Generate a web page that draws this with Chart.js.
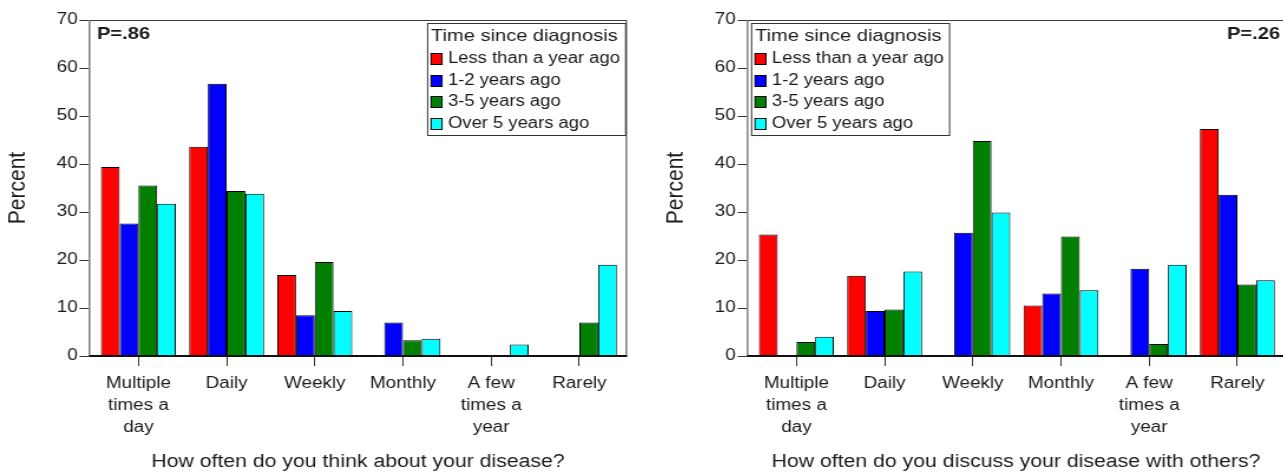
<!DOCTYPE html>
<html>
<head>
<meta charset="utf-8">
<script src="https://cdn.jsdelivr.net/npm/chart.js@4.4.1/dist/chart.umd.min.js"></script>
<style>
  html, body { margin: 0; padding: 0; background: #fff; overflow: hidden; width: 1283px; height: 472px; }
  .panel { position: absolute; top: 0; transform-origin: 0 0; transform: scaleX(1.18); }
  #p1 { left: 0; }
  #p2 { left: 658px; }
  canvas { display: block; }
</style>
</head>
<body>
<div class="panel" id="p1"><canvas id="c1" width="545" height="472"></canvas></div>
<div class="panel" id="p2"><canvas id="c2" width="545" height="472"></canvas></div>
<script>
// Response categories (multi-line tick labels)
const categories = [["Multiple", "times a", "day"], "Daily", "Weekly", "Monthly", ["A few", "times a", "year"], "Rarely"];
// Time since diagnosis groups
const groups = ["Less than a year ago", "1-2 years ago", "3-5 years ago", "Over 5 years ago"];
const groupColors = ["#ff0000", "#0000ff", "#007f00", "#00ffff"];
const yTicks = [0, 10, 20, 30, 40, 50, 60, 70];

// How often do you think about your disease? (percent)
const thinkLessThanYear = [39.4, 43.6, 16.9, 0, 0, 0];
const think1to2Years   = [27.6, 56.7, 8.5, 7.0, 0, 0];
const think3to5Years   = [35.5, 34.4, 19.6, 3.3, 0, 7.0];
const thinkOver5Years  = [31.7, 33.8, 9.4, 3.6, 2.4, 19.0];

// How often do you discuss your disease with others? (percent)
const discussLessThanYear = [25.3, 16.7, 0, 10.5, 0, 47.3];
const discuss1to2Years    = [0, 9.4, 25.7, 13.0, 18.2, 33.6];
const discuss3to5Years    = [2.9, 9.7, 44.8, 24.9, 2.5, 14.9];
const discussOver5Years   = [4.0, 17.6, 29.9, 13.7, 19.0, 15.8];

const FONT = "'Liberation Sans', Arial, Helvetica, sans-serif";
const TEXT = '#1a1a1a';

// Frame around the plot region plus a heavy baseline
const framePlugin = {
  id: 'frame',
  afterDatasetsDraw(chart) {
    const { ctx, chartArea: a } = chart;
    ctx.save();
    ctx.strokeStyle = '#3c3c3c';
    ctx.lineWidth = 1;
    ctx.strokeRect(a.left + 0.5, a.top + 0.5, a.right - a.left - 1, a.bottom - a.top);
    ctx.strokeStyle = '#111';
    ctx.lineWidth = 2;
    ctx.beginPath();
    ctx.moveTo(a.left, a.bottom);
    ctx.lineTo(a.right, a.bottom);
    ctx.stroke();
    ctx.restore();
  }
};

// Boxed legend with a title, and the P-value annotation
const boxLegendPlugin = {
  id: 'boxLegend',
  afterDraw(chart, args, opts) {
    const { ctx } = chart;
    const L = opts.left, T = 23, W = 167.8, H = 112;
    ctx.save();
    ctx.fillStyle = '#fff';
    ctx.fillRect(L, T, W, H);
    ctx.strokeStyle = '#333';
    ctx.lineWidth = 1;
    ctx.strokeRect(L + 0.5, T + 0.5, W, H);
    ctx.fillStyle = TEXT;
    ctx.textBaseline = 'middle';
    ctx.textAlign = 'left';
    ctx.font = '17px ' + FONT;
    ctx.fillText(opts.title, L + 3.4, 36);
    ctx.font = '15.6px ' + FONT;
    const rows = [59, 81, 102, 124];
    chart.data.datasets.forEach((ds, i) => {
      const y = rows[i];
      ctx.fillStyle = ds.backgroundColor;
      ctx.fillRect(L + 3.4, y - 5.5, 9.3, 11);
      ctx.strokeStyle = '#000';
      ctx.strokeRect(L + 3.4, y - 5.5, 9.3, 11);
      ctx.fillStyle = TEXT;
      ctx.fillText(ds.label, L + 17.8, y);
    });
    ctx.font = 'bold 17px ' + FONT;
    ctx.textAlign = opts.pAlign;
    ctx.fillText(opts.pText, opts.pX, 34);
    ctx.restore();
  }
};

function makeChart(canvasId, series, xTitle, legendOpts) {
  const datasets = series.map((vals, i) => ({
    label: groups[i],
    data: vals.map((v, k) => ({ x: k, y: v })),
    backgroundColor: groupColors[i],
    borderColor: '#000',
    borderWidth: 1,
    categoryPercentage: 0.85,
    barPercentage: 1.0
  }));
  return new Chart(document.getElementById(canvasId), {
    type: 'bar',
    data: { datasets },
    plugins: [framePlugin, boxLegendPlugin],
    options: {
      responsive: false,
      devicePixelRatio: 1,
      animation: false,
      layout: { padding: { left: 0, right: 13.64, top: 20, bottom: 0 } },
      plugins: {
        legend: { display: false },
        tooltip: { enabled: false },
        boxLegend: legendOpts
      },
      scales: {
        x: {
          type: 'linear',
          min: -0.56,
          max: 5.54,
          offset: false,
          afterBuildTicks: s => { s.ticks = categories.map((c, i) => ({ value: i })); },
          afterFit: s => { s.height = 116; },
          grid: { drawOnChartArea: false, drawTicks: true, tickLength: 10, color: '#333', offset: false },
          border: { display: false },
          ticks: {
            autoSkip: false, maxRotation: 0, padding: 6,
            color: TEXT, font: { family: FONT, size: 16, lineHeight: 1.4 },
            callback: v => categories[v]
          },
          title: {
            display: true, text: xTitle, color: TEXT,
            font: { family: FONT, size: 18, lineHeight: 1.1 },
            padding: { top: 0, bottom: 0 }
          }
        },
        y: {
          min: 0,
          max: 70,
          afterBuildTicks: s => { s.ticks = yTicks.map(v => ({ value: v })); },
          afterFit: s => { s.width = 75.42; },
          grid: { drawOnChartArea: false, drawTicks: true, tickLength: 8, color: '#333' },
          border: { display: false },
          ticks: { padding: 1.5, color: TEXT, font: { family: FONT, size: 16 } },
          title: {
            display: true, text: 'Percent', color: TEXT,
            font: { family: FONT, size: 21, lineHeight: 1.2 },
            padding: { top: 2.65, bottom: 0 }
          }
        }
      }
    }
  });
}

makeChart('c1',
  [thinkLessThanYear, think1to2Years, think3to5Years, thinkOver5Years],
  'How often do you think about your disease?',
  { left: 361.9, title: 'Time since diagnosis', pText: 'P=.86', pX: 82.2, pAlign: 'left' });

makeChart('c2',
  [discussLessThanYear, discuss1to2Years, discuss3to5Years, discussOver5Years],
  'How often do you discuss your disease with others?',
  { left: 78.8, title: 'Time since diagnosis', pText: 'P=.26', pX: 527.1, pAlign: 'right' });
</script>
</body>
</html>
